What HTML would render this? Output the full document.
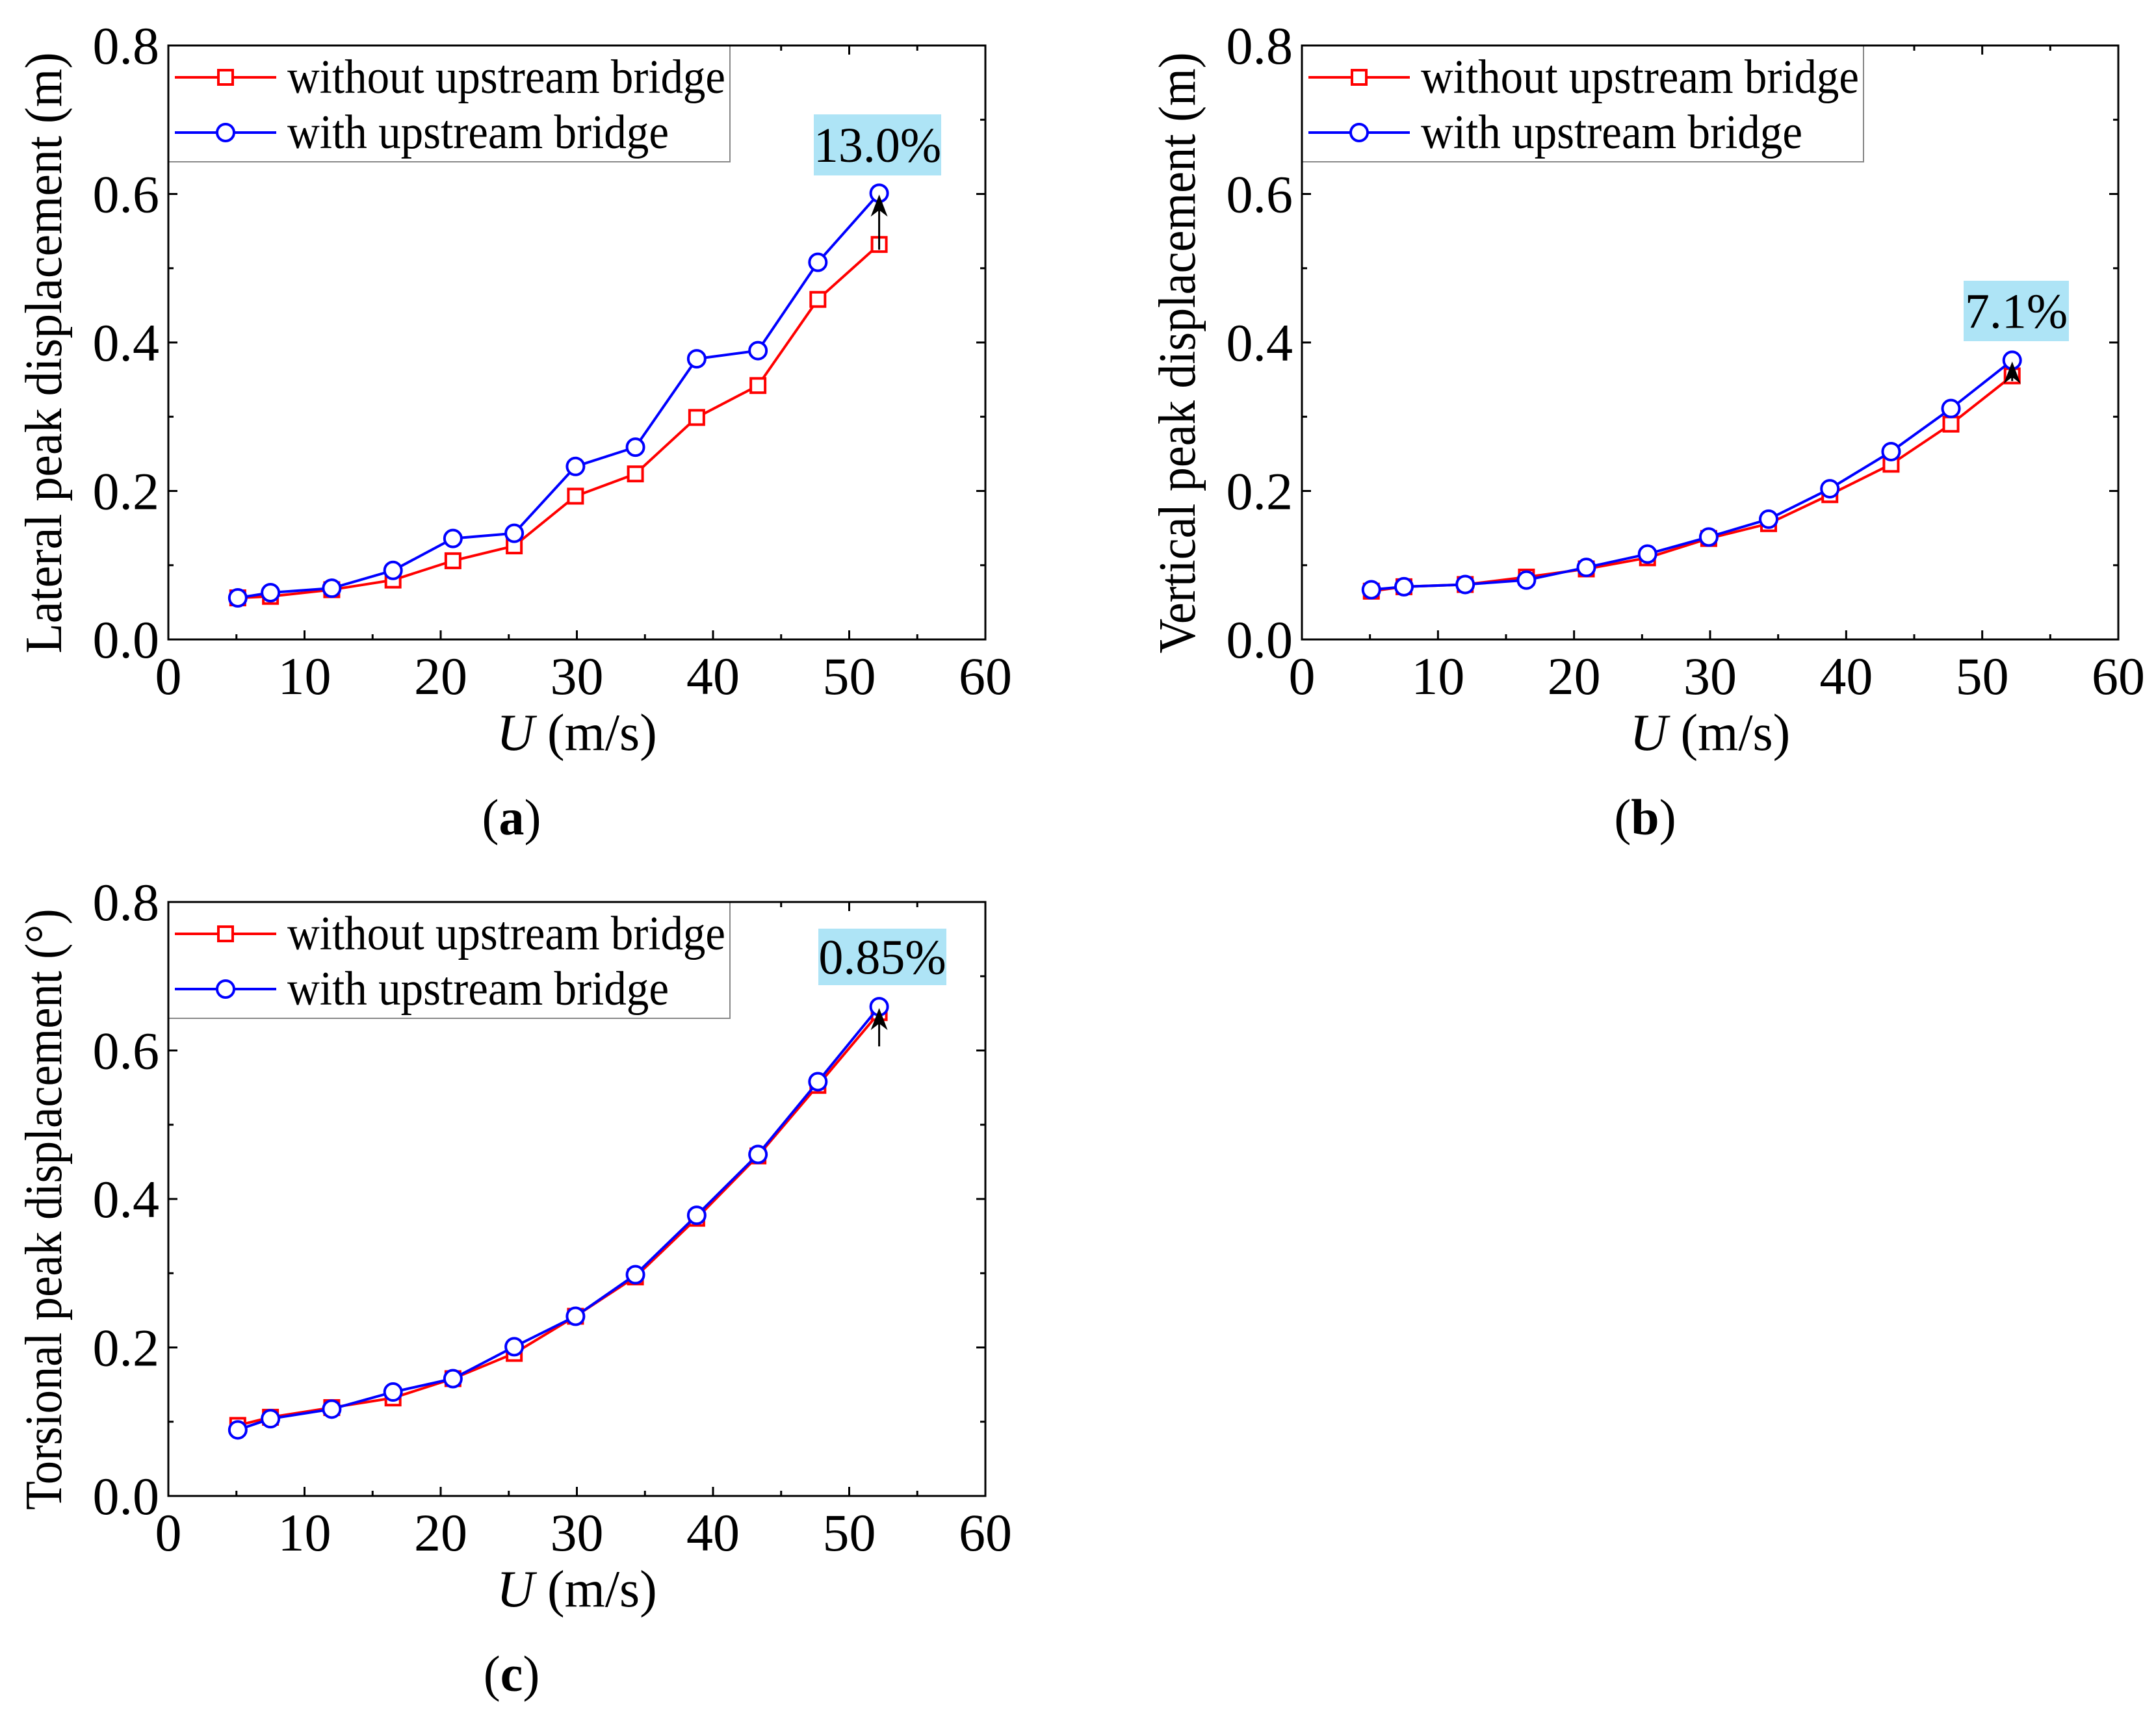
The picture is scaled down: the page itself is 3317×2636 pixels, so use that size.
<!DOCTYPE html>
<html><head><meta charset="utf-8"><style>
html,body{margin:0;padding:0;background:#fff;}
svg{display:block;}
</style></head><body>
<svg id="fig" width="3317" height="2636" viewBox="0 0 3317 2636" xmlns="http://www.w3.org/2000/svg" font-family="Liberation Serif, serif"></svg>
<script>
const xValues = [5.1, 7.5, 12.0, 16.5, 20.9, 25.4, 29.9, 34.3, 38.8, 43.3, 47.7, 52.2];
const aWithout = [0.056, 0.058, 0.067, 0.080, 0.106, 0.126, 0.193, 0.223, 0.299, 0.342, 0.458, 0.532];
const aWith = [0.056, 0.063, 0.069, 0.093, 0.136, 0.143, 0.233, 0.259, 0.378, 0.389, 0.508, 0.601];
const bWithout = [0.065, 0.071, 0.074, 0.084, 0.095, 0.110, 0.136, 0.156, 0.195, 0.236, 0.290, 0.355];
const bWith = [0.067, 0.071, 0.074, 0.080, 0.097, 0.115, 0.138, 0.162, 0.203, 0.253, 0.311, 0.376];
const cWithout = [0.095, 0.106, 0.119, 0.132, 0.158, 0.192, 0.242, 0.295, 0.374, 0.458, 0.553, 0.651];
const cWith = [0.089, 0.104, 0.117, 0.140, 0.158, 0.201, 0.242, 0.298, 0.378, 0.460, 0.558, 0.659];
const xTicks = [0, 10, 20, 30, 40, 50, 60];
const yTicks = ["0.0", "0.2", "0.4", "0.6", "0.8"];
const annotations = ["13.0%", "7.1%", "0.85%"];

const NS = "http://www.w3.org/2000/svg";
const svg = document.getElementById("fig");
function mk(tag, attrs, parent) {
  const e = document.createElementNS(NS, tag);
  for (const k in attrs) e.setAttribute(k, attrs[k]);
  (parent || svg).appendChild(e);
  return e;
}
const FF = "Liberation Serif, serif";

function panel(id, L, R, T, B, ylabel, sub, red, blue, note) {
  const g = mk("g", {"font-family": FF});
  
  
  const sx = v => L + (v / 60) * (R - L);
  const sy = v => B - (v / 0.8) * (B - T);
  for (let v = 0; v <= 60; v += 5) {
    const len = v % 10 === 0 ? 14 : 8;
    mk("line", {x1: sx(v), x2: sx(v), y1: B, y2: B - len, stroke: "#000", "stroke-width": 3}, g);
    mk("line", {x1: sx(v), x2: sx(v), y1: T, y2: T + len, stroke: "#000", "stroke-width": 3}, g);
  }
  for (let i = 0; i <= 8; i++) {
    const v = i * 0.1, len = i % 2 === 0 ? 14 : 8;
    mk("line", {x1: L, x2: L + len, y1: sy(v), y2: sy(v), stroke: "#000", "stroke-width": 3}, g);
    mk("line", {x1: R, x2: R - len, y1: sy(v), y2: sy(v), stroke: "#000", "stroke-width": 3}, g);
  }
  xTicks.forEach(v => {
    const t = mk("text", {x: sx(v), y: B + 84, "font-size": 82, "text-anchor": "middle", "font-family": FF}, g);
    t.textContent = v;
    
    
  });
  yTicks.forEach(s => {
    const t = mk("text", {x: L - 14, y: sy(parseFloat(s)) + 28, "font-size": 82, "text-anchor": "end", "font-family": FF}, g);
    t.textContent = s;
    
    
  });
  const xl = mk("text", {x: (L + R) / 2, y: B + 170, "font-size": 80, "text-anchor": "middle", "font-family": FF}, g);
  xl.innerHTML = '<tspan font-style="italic">U</tspan> (m/s)';
  
  
  const yl = mk("text", {x: 0, y: 0, "font-size": 80, "text-anchor": "middle", "font-family": FF, textLength: 925, lengthAdjust: "spacingAndGlyphs", transform: `translate(${L - 165},${(T + B) / 2 + 16}) rotate(-90)`}, g);
  yl.textContent = ylabel;
  
  
  const sl = mk("text", {x: L + 528, y: B + 300, "font-size": 78, "text-anchor": "middle", "font-family": FF}, g);
  sl.innerHTML = '(<tspan font-weight="bold">' + sub + '</tspan>)';
  
  

  function series(vals, color, marker, name) {
    const sg = mk("g", {}, g);
    
    
    mk("polyline", {points: vals.map((v, i) => sx(xValues[i]) + "," + sy(v)).join(" "), fill: "none", stroke: color, "stroke-width": 4}, sg);
    vals.forEach((v, i) => {
      let m;
      if (marker === "sq") m = mk("rect", {x: sx(xValues[i]) - 11, y: sy(v) - 11, width: 22, height: 22, fill: "#fff", stroke: color, "stroke-width": 4}, sg);
      else m = mk("circle", {cx: sx(xValues[i]), cy: sy(v), r: 13, fill: "#fff", stroke: color, "stroke-width": 4}, sg);
      
      
    });
  }
  series(red, "#ff0000", "sq", "series-without-upstream");
  series(blue, "#0000ff", "ci", "series-with-upstream");

  const n = xValues.length - 1, ax = sx(xValues[n]);
  const y1 = sy(red[n]) + (id === "c" ? 52 : 8), y2 = sy(blue[n]) + 2;
  mk("line", {x1: ax, x2: ax, y1: y1, y2: y2 + 20, stroke: "#000", "stroke-width": 3}, g);
  const ar = mk("path", {d: `M${ax},${y2} L${ax - 13},${y2 + 34} L${ax},${y2 + 24} L${ax + 13},${y2 + 34} Z`, fill: "#000"}, g);
  
  

  const rb = mk("rect", {x: note.x, y: note.y, width: note.w, height: note.h, fill: "#aee4f6"}, g);
  
  
  const nt = mk("text", {x: note.x + note.w / 2, y: note.y + note.h / 2 + 26, "font-size": 76, "text-anchor": "middle", "font-family": FF}, g);
  nt.textContent = note.text;
  
  

  const lg = mk("g", {}, g);
  
  
  mk("rect", {x: L, y: T, width: 864, height: 179, fill: "#fff", stroke: "#888", "stroke-width": 2}, lg);
  [["without upstream bridge", "#ff0000", "sq", 119, 674], ["with upstream bridge", "#0000ff", "ci", 204, 587]].forEach(([lab, c, m, yy, tl]) => {
    const e = mk("g", {}, lg);
    
    
    const ly = T + yy - 70;
    mk("line", {x1: L + 10, x2: L + 166, y1: ly, y2: ly, stroke: c, "stroke-width": 4}, e);
    if (m === "sq") mk("rect", {x: L + 77, y: ly - 11, width: 22, height: 22, fill: "#fff", stroke: c, "stroke-width": 4}, e);
    else mk("circle", {cx: L + 88, cy: ly, r: 13, fill: "#fff", stroke: c, "stroke-width": 4}, e);
    const t = mk("text", {x: L + 183, y: ly + 24, "font-size": 74, "font-family": FF, textLength: tl, lengthAdjust: "spacingAndGlyphs"}, e);
    t.textContent = lab;
  });

  mk("rect", {x: L, y: T, width: R - L, height: B - T, fill: "none", stroke: "#000", "stroke-width": 3}, g);
}

panel("a", 259, 1516, 70, 984, "Lateral peak displacement (m)", "a", aWithout, aWith,
  {x: 1252, y: 176, w: 196, h: 94, text: annotations[0]});
panel("b", 2003, 3259, 70, 984, "Vertical peak displacement (m)", "b", bWithout, bWith,
  {x: 3021, y: 432, w: 162, h: 93, text: annotations[1]});
panel("c", 259, 1516, 1388, 2302, "Torsional peak displacement (°)", "c", cWithout, cWith,
  {x: 1259, y: 1429, w: 197, h: 87, text: annotations[2]});
</script>
</body></html>
